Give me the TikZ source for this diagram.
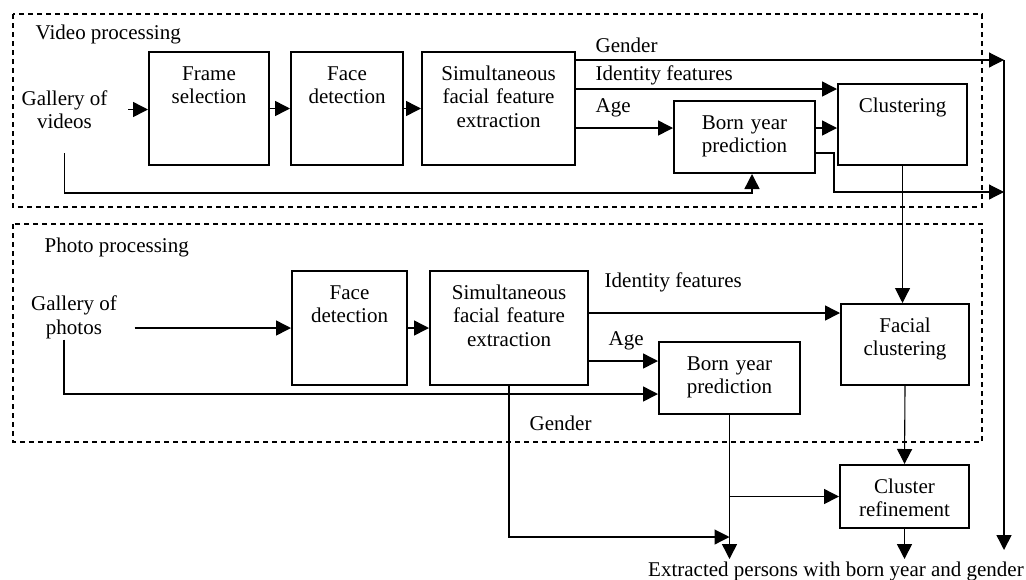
\documentclass[tikz,border=0pt]{standalone}
\usepackage{fontspec}
\setmainfont{Liberation Serif}
\usetikzlibrary{arrows.meta,positioning,calc}
\tikzset{every picture/.style={line width=0.7pt}}
\tikzset{
  box/.style={draw, line width=1pt, anchor=north west, align=center, inner sep=0pt, text height=14pt},
  arr/.style={-{Triangle[length=7.5pt,width=7.5pt]}, line width=0.75pt},
  thinarr/.style={arr, line width=0.55pt},
  grp/.style={dash pattern=on 2.6pt off 1.9pt, line width=0.65pt},
  lbl/.style={anchor=west, inner sep=0pt},
  every node/.style={font=\fontsize{10.5}{11.75}\selectfont},
}
\begin{document}
\begin{tikzpicture}[x=0.5pt, y=-0.5pt]
    \useasboundingbox (0,0) rectangle (1026,579);

    % 虚线框
    \draw[grp] (13,14) rectangle (982,207);
    \draw[grp] (13,224) rectangle (982,442);
    \node[lbl] (vidtitle) at (35,34) {Video processing};
    \node[lbl] (phototitle) at (44,247) {Photo processing};

    % 视频处理
    \node[align=center, inner sep=0pt] (galv) at (64.5,109.5) {Gallery of\\videos};
    \node[box, text width=60pt, text depth=42.5pt] (frame) at (148,51) {Frame\\selection};
    \node[box, text width=56pt, text depth=42.5pt] (facev) at (290,51) {Face\\detection};
    \node[box, text width=76.5pt, text depth=42.5pt] (simv) at (421,51) {Simultaneous\\facial feature\\extraction};
    \node[box, text width=70.5pt, text depth=22pt] (bornv) at (673,100) {Born year\\prediction};
    \node[box, text width=64.5pt, text depth=26.5pt] (clus) at (837,83) {Clustering};
    \coordinate (vbus) at (752,193);
    \coordinate (rbus) at (1004,60);

    \draw[arr] ([xshift=10pt]galv.east) -- (galv.east -| frame.west);
    \draw[arr] (frame.east) -- (facev.west);
    \draw[arr] (facev.east) -- (simv.west);
    \draw[thinarr] (simv.east |- rbus) -- (rbus);
    \draw[arr] (simv.east |- 0,89) -- (clus.west |- 0,89);
    \draw[arr] (simv.east |- 0,128) -- (bornv.west |- 0,128);
    \draw[arr] (bornv.east |- 0,128) -- (clus.west |- 0,128);
    \draw[thinarr] (bornv.east |- 0,153) -- ++(18,0) |- (rbus |- 0,192);
    \draw[arr] ([yshift=-12pt]galv.south) |- (vbus) -- (vbus |- bornv.south);
    \node[lbl] (gendv) at (595,45) {Gender};
    \node[lbl] (identv) at (595,75) {Identity features};
    \node[lbl] (agev) at (595,108) {Age};

    % 照片处理
    \node[align=center, inner sep=0pt] (galp) at (74,317.5) {Gallery of\\photos};
    \node[box, text width=57.5pt, text depth=43pt] (facep) at (291,270) {Face\\detection};
    \node[box, text width=79pt, text depth=43pt] (simp) at (429,270) {Simultaneous\\facial feature\\extraction};
    \node[box, text width=70.5pt, text depth=22pt] (bornp) at (658,341) {Born year\\prediction};
    \node[box, text width=64pt, text depth=26.5pt] (fclus) at (840,303) {Facial\\clustering};
    \node[box, text width=64.5pt, text depth=17.5pt] (refine) at (839,464) {Cluster\\refinement};
    \coordinate (pbus) at (64,394);
    \coordinate (join) at (bornp.south |- 0,537);

    \draw[arr] ([xshift=8.5pt]galp.east |- facep.west) -- (facep.west);
    \draw[arr] (facep.east) -- (simp.west);
    \draw[arr] (simp.east |- 0,313) -- (fclus.west |- 0,313);
    \draw[arr] (simp.east |- 0,361) -- (bornp.west |- 0,361);
    \draw[arr] (pbus |- galp.south) |- (bornp.west |- pbus);
    \draw[thinarr] (clus.south) -- (clus.south |- fclus.north);
    \node[lbl] (identp) at (604,282) {Identity features};
    \node[lbl] (agep) at (608,341) {Age};
    \node[lbl] (gendp) at (529,423) {Gender};

    % 输出
    \node[inner sep=0pt] (out) at (836,571) {Extracted persons with born year and gender};
    \draw[thinarr] (simp.south) |- (join);
    \draw[arr] (bornp.south) -- (bornp.south |- 0,559);
    \draw[arr] (bornp.south |- refine.west) -- (refine.west);
    \draw[thinarr] (fclus.south) -- (refine.north);
    \draw[arr] (refine.south) -- (refine.south |- 0,559);
    \draw[arr] (rbus) -- (rbus |- 0,550);
\end{tikzpicture}
\end{document}
